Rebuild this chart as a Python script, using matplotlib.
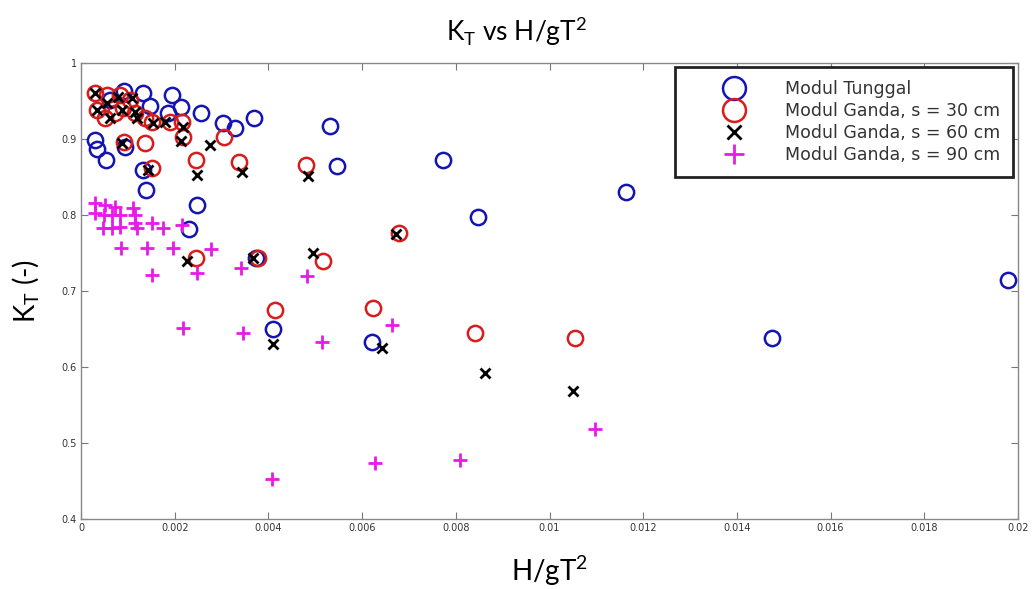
import matplotlib
matplotlib.use('Agg')
import matplotlib.pyplot as plt

# Modul Tunggal
tunggal_x = [0.0003, 0.00034, 0.00053, 0.00092, 0.00132, 0.00194, 0.00147, 0.00213, 0.00186,
             0.00256, 0.00303, 0.00329, 0.00369, 0.00531, 0.00546, 0.00773, 0.00847, 0.01163,
             0.01475, 0.01979, 0.00132, 0.00139, 0.00248, 0.00231, 0.00374, 0.0041, 0.00621,
             0.00094, 0.00062]
tunggal_y = [0.899, 0.887, 0.872, 0.963, 0.961, 0.958, 0.943, 0.942, 0.934,
             0.934, 0.921, 0.914, 0.928, 0.917, 0.864, 0.872, 0.797, 0.830,
             0.638, 0.715, 0.859, 0.833, 0.813, 0.782, 0.743, 0.650, 0.633,
             0.889, 0.951]

# Modul Ganda, s = 30 cm
ganda30_x = [0.0003, 0.00055, 0.00034, 0.00051, 0.00073, 0.0009, 0.00105, 0.00115, 0.00083,
             0.00137, 0.00152, 0.0019, 0.00216, 0.00218, 0.00305, 0.00092, 0.00137, 0.00152,
             0.00245, 0.00337, 0.0048, 0.00245, 0.00378, 0.00517, 0.00679, 0.00414, 0.00623,
             0.00841, 0.01054]
ganda30_y = [0.961, 0.958, 0.938, 0.928, 0.934, 0.941, 0.951, 0.934, 0.958,
             0.928, 0.922, 0.922, 0.922, 0.903, 0.903, 0.896, 0.895, 0.862,
             0.872, 0.870, 0.866, 0.743, 0.743, 0.739, 0.776, 0.675, 0.678,
             0.645, 0.638]

# Modul Ganda, s = 60 cm
ganda60_x = [0.0003, 0.00055, 0.00079, 0.00109, 0.00034, 0.00062, 0.00088, 0.00115, 0.0012,
             0.00154, 0.00179, 0.00218, 0.00088, 0.00143, 0.00213, 0.00275, 0.00248, 0.00344,
             0.00485, 0.00226, 0.00367, 0.00495, 0.00672, 0.0041, 0.00643, 0.00862, 0.0105]
ganda60_y = [0.961, 0.947, 0.955, 0.954, 0.938, 0.928, 0.938, 0.936, 0.928,
             0.921, 0.922, 0.916, 0.895, 0.859, 0.897, 0.892, 0.853, 0.857,
             0.851, 0.739, 0.743, 0.750, 0.775, 0.630, 0.625, 0.592, 0.568]

# Modul Ganda, s = 90 cm
ganda90_x = [0.0003, 0.00051, 0.00073, 0.00111, 0.0003, 0.00049, 0.00066, 0.00083, 0.00115,
             0.00047, 0.00066, 0.00083, 0.00115, 0.0012, 0.00152, 0.00175, 0.00216, 0.00085,
             0.00141, 0.00196, 0.00277, 0.00152, 0.00248, 0.00342, 0.00482, 0.00218, 0.00346,
             0.00514, 0.00664, 0.01097, 0.00408, 0.00628, 0.00809]
ganda90_y = [0.816, 0.813, 0.811, 0.809, 0.803, 0.800, 0.800, 0.800, 0.800,
             0.783, 0.783, 0.784, 0.789, 0.783, 0.789, 0.783, 0.787, 0.757,
             0.757, 0.757, 0.755, 0.721, 0.724, 0.730, 0.720, 0.651, 0.645,
             0.633, 0.655, 0.518, 0.453, 0.474, 0.478]

xticks = [0, 0.002, 0.004, 0.006, 0.008, 0.01, 0.012, 0.014, 0.016, 0.018, 0.02]
xticklabels = ['0', '0.002', '0.004', '0.006', '0.008', '0.01', '0.012', '0.014', '0.016', '0.018', '0.02']
yticks = [0.4, 0.5, 0.6, 0.7, 0.8, 0.9, 1]
yticklabels = ['0.4', '0.5', '0.6', '0.7', '0.8', '0.9', '1']

plt.rcParams['mathtext.fontset'] = 'custom'
plt.rcParams['mathtext.rm'] = 'Lato'

fig = plt.figure(figsize=(10.33, 5.89), dpi=100)
ax = fig.add_axes([0.0784, 0.1188, 0.9071, 0.7742])

ax.plot(tunggal_x, tunggal_y, 'o', mfc='none', mec='#1414b4', ms=11, mew=1.8, label='Modul Tunggal')
ax.plot(ganda30_x, ganda30_y, 'o', mfc='none', mec='#d81c1c', ms=11, mew=1.8, label='Modul Ganda, s = 30 cm')
ax.plot(ganda60_x, ganda60_y, 'x', color='black', ms=7, mew=2, label='Modul Ganda, s = 60 cm')
ax.plot(ganda90_x, ganda90_y, '+', color='#e81ae8', ms=10, mew=2, label='Modul Ganda, s = 90 cm')

ax.set_xlim(0, 0.02)
ax.set_ylim(0.4, 1)
ax.set_xticks(xticks)
ax.set_xticklabels(xticklabels)
ax.set_yticks(yticks)
ax.set_yticklabels(yticklabels)
ax.tick_params(direction='in', top=True, right=True, length=5, width=0.8, color='#777777',
               labelsize=7, labelcolor='#333333', pad=3)
for s in ax.spines.values():
    s.set_color('#888888')
    s.set_linewidth(1)

leg = ax.legend(loc='upper right', bbox_to_anchor=(0.9947, 0.991), fancybox=False,
                edgecolor='#222222', fontsize=12.5, markerscale=1.5, handlelength=5.3,
                handletextpad=0.3, borderpad=0.75, labelspacing=0.23, framealpha=1,
                borderaxespad=0)
leg.get_frame().set_linewidth(2)
for t in leg.get_texts():
    t.set_color('#333333')

fig.suptitle(r'K$_\mathregular{T}$ vs H/gT$^\mathregular{2}$', y=0.975, fontsize=19, family='Lato')
ax.set_xlabel(r'H/gT$^\mathregular{2}$', fontsize=20, family='Lato', labelpad=14)
ax.set_ylabel(r'K$_\mathregular{T}$ (-)', fontsize=20, family='Lato', labelpad=14)

fig.savefig('out.png', dpi=100)
